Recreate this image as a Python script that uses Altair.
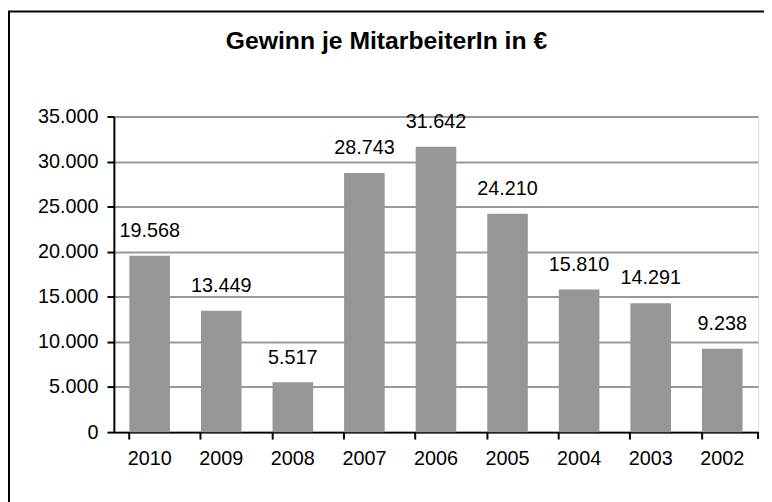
import altair as alt
import pandas as pd

years = ["2010", "2009", "2008", "2007", "2006", "2005", "2004", "2003", "2002"]
values = [19568, 13449, 5517, 28743, 31642, 24210, 15810, 14291, 9238]
y_ticks = [0, 5000, 10000, 15000, 20000, 25000, 30000, 35000]
title_text = "Gewinn je MitarbeiterIn in €"

df = pd.DataFrame({"year": years, "value": values})

W, H = 651, 319
FONT = "Liberation Sans"

x_enc = alt.X(
    "year:N", sort=years, title=None,
    scale=alt.Scale(paddingInner=0.433, paddingOuter=0.2165),
    axis=alt.Axis(labelAngle=0, bandPosition=0, tickSize=7, tickColor="black",
                  tickWidth=2, domainColor="black", domainWidth=2,
                  labelFontSize=20, labelColor="black", labelPadding=10,
                  labelFont=FONT, grid=False),
)
y_enc = alt.Y(
    "value:Q", title=None,
    scale=alt.Scale(domain=[0, 35000], nice=False),
    axis=alt.Axis(values=y_ticks, format=",d", tickSize=7, tickColor="black",
                  tickWidth=2, domainColor="black", domainWidth=2,
                  labelFontSize=20, labelColor="black", labelPadding=9,
                  labelFont=FONT, grid=True, gridColor="#999999", gridWidth=2),
)

frame = alt.Chart(alt.Data(values=[{}])).mark_rect(
    fillOpacity=0, stroke="black", strokeWidth=2
).encode(x=alt.value(-106), x2=alt.value(W + 200), y=alt.value(-106), y2=alt.value(H + 200))

bars = alt.Chart(df).mark_bar(color="#969696").encode(x=x_enc, y=y_enc)

labels = alt.Chart(df).mark_text(
    dy=-19, baseline="alphabetic", fontSize=20, font=FONT, color="black"
).encode(x=x_enc, y=y_enc, text=alt.Text("value:Q", format=",d"))

end_tick = alt.Chart(alt.Data(values=[{}])).mark_rule(
    color="black", strokeWidth=2
).encode(x=alt.value(W), y=alt.value(H), y2=alt.value(H + 7))

chart = alt.layer(frame, bars, labels, end_tick).properties(
    width=W, height=H,
    autosize=alt.AutoSizeParams(type="none"),
    padding={"left": 107, "top": 107, "right": 6, "bottom": 68},
    title=alt.TitleParams(title_text, frame="group", anchor="middle", fontSize=25,
                          font=FONT, fontWeight="bold", baseline="alphabetic",
                          offset=-64, dx=-50, color="black"),
).configure_view(stroke="#999999", strokeWidth=2).configure(
    locale={"number": {"decimal": ",", "thousands": ".", "grouping": [3],
                       "currency": ["", "\u00a0€"]}}
)

chart.save("out.html", embed_options={"renderer": "svg", "actions": False})
